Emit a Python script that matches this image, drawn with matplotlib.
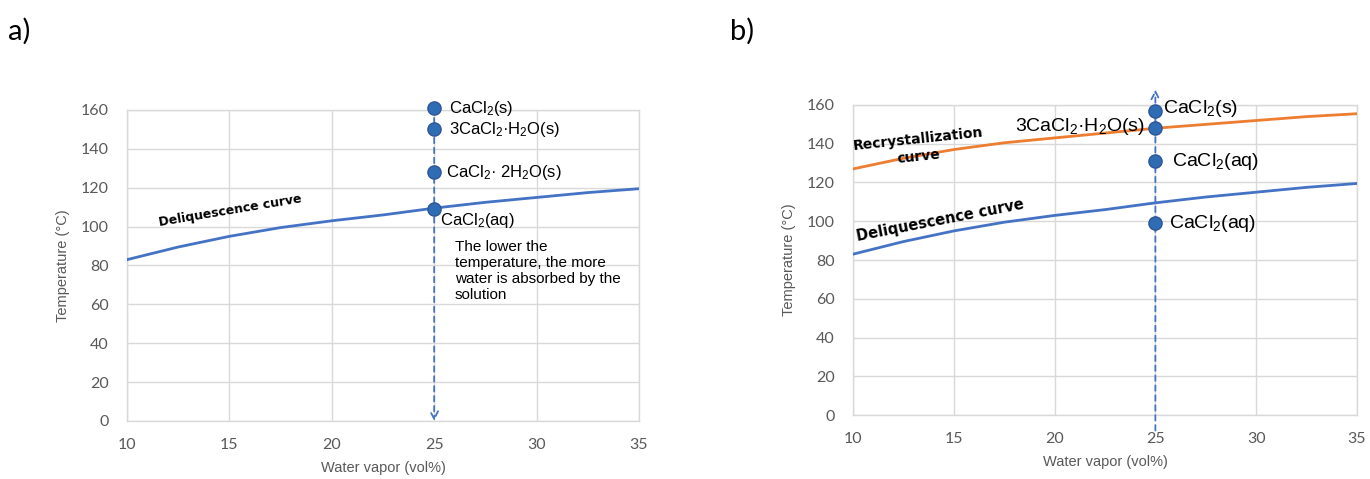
import numpy as np
import matplotlib
matplotlib.use('Agg')
import matplotlib.pyplot as plt

plt.rcParams['font.family'] = ['Liberation Sans', 'DejaVu Sans']
plt.rcParams['mathtext.fontset'] = 'custom'
plt.rcParams['mathtext.rm'] = 'Liberation Sans'
plt.rcParams['mathtext.default'] = 'regular'

# curves
vapor = [10, 12.5, 15, 17.5, 20, 22.5, 25, 27.5, 30, 32.5, 35]
deliq = [83, 89.5, 95, 99.5, 103, 106, 109.5, 112.5, 115, 117.5, 119.5]
recryst = [127, 132.5, 137, 140.5, 143, 145.5, 148, 150, 152, 154, 155.5]

# points at 25 vol%
x_pt = 25
temp_a = [161, 150, 128, 109]
labels_a = [r'CaCl$_2$(s)', r'3CaCl$_2$·H$_2$O(s)', r'CaCl$_2$· 2H$_2$O(s)', r'CaCl$_2$(aq)']
temp_b = [157, 148, 131, 99]
labels_b = [r'CaCl$_2$(s)', r'3CaCl$_2$·H$_2$O(s)', r'CaCl$_2$(aq)', r'CaCl$_2$(aq)']

xticks = [10, 15, 20, 25, 30, 35]
yticks = [0, 20, 40, 60, 80, 100, 120, 140, 160]

blue = '#4472C4'
orange = '#ED7D31'
dot = '#2E6DB4'
grid_c = '#D9D9D9'
tick_c = '#595959'

fig = plt.figure(figsize=(13.7, 4.79), dpi=100)
ax1 = fig.add_axes([0.0927, 0.1211, 0.3737, 0.6493])
ax2 = fig.add_axes([0.6226, 0.1336, 0.3679, 0.6472])

for ax in (ax1, ax2):
    ax.set_xlim(10, 35)
    ax.set_ylim(0, 160)
    ax.set_xticks(xticks)
    ax.set_yticks(yticks)
    ax.grid(True, color=grid_c, lw=1)
    ax.set_axisbelow(True)
    for s in ax.spines.values():
        s.set_color(grid_c)
        s.set_linewidth(1)
    ax.tick_params(length=0, labelsize=11.5, colors=tick_c)
    ax.tick_params(axis='x', pad=12)
    ax.tick_params(axis='y', pad=13)
    for lab in ax.get_xticklabels() + ax.get_yticklabels():
        lab.set_family('Lato')
    ax.set_xlabel('Water vapor (vol%)', fontsize=10.5, color=tick_c, family='Liberation Sans', labelpad=7)
    ax.set_ylabel('Temperature (°C)', fontsize=10.5, color=tick_c, family='Liberation Sans', labelpad=8)
    ax.plot(vapor, deliq, color=blue, lw=2, zorder=3)

# ---- panel a
ax1.annotate('', xy=(x_pt, 0), xytext=(x_pt, temp_a[0]),
             arrowprops=dict(arrowstyle='->', color=blue, lw=1.3, ls=(0, (3, 2.5)),
                             mutation_scale=14, shrinkA=0, shrinkB=0), zorder=4)
ax1.plot([x_pt] * len(temp_a), temp_a, 'o', ms=9.5, color=dot, mec='#2F5597', zorder=5, clip_on=False)
ax1.text(25.7, temp_a[0], labels_a[0], fontsize=12, va='center')
ax1.text(25.7, temp_a[1], labels_a[1], fontsize=12, va='center')
ax1.text(25.6, temp_a[2], labels_a[2], fontsize=12, va='center')
ax1.text(25.3, temp_a[3] - 6, labels_a[3], fontsize=12, va='center')
ax1.text(26.0, 61, 'The lower the\ntemperature, the more\nwater is absorbed by the\nsolution',
         fontsize=11, va='bottom', linespacing=1.2)
ax1.text(11.6, 100.5, 'Deliquescence curve', fontsize=9, fontweight='bold', rotation=9.5,
         rotation_mode='anchor', family='DejaVu Sans')

# ---- panel b
ax2.plot(vapor, recryst, color=orange, lw=2, zorder=3)
ax2.annotate('', xy=(x_pt, 168), xytext=(x_pt, -8),
             arrowprops=dict(arrowstyle='->', color=blue, lw=1.3, ls=(0, (3, 2.5)),
                             mutation_scale=14, shrinkA=0, shrinkB=0),
             annotation_clip=False, zorder=4)
ax2.plot([x_pt] * len(temp_b), temp_b, 'o', ms=9.5, color=dot, mec='#2F5597', zorder=5, clip_on=False)
ax2.text(25.4, temp_b[0] + 1, labels_b[0], fontsize=14, va='center')
ax2.text(24.5, temp_b[1] + 1, labels_b[1], fontsize=14, va='center', ha='right')
ax2.text(25.8, temp_b[2], labels_b[2], fontsize=14, va='center')
ax2.text(25.7, temp_b[3], labels_b[3], fontsize=14, va='center')
ax2.text(10.0, 137, 'Recrystallization', fontsize=10, fontweight='bold', rotation=6,
         rotation_mode='anchor', family='DejaVu Sans')
ax2.text(12.2, 130, 'curve', fontsize=10, fontweight='bold', rotation=6,
         rotation_mode='anchor', family='DejaVu Sans')
ax2.text(10.2, 90, 'Deliquescence curve', fontsize=10.5, fontweight='bold', rotation=11,
         rotation_mode='anchor', family='DejaVu Sans')

fig.text(0.006, 0.935, 'a)', fontsize=21, family='Lato', va='center')
fig.text(0.533, 0.935, 'b)', fontsize=21, family='Lato', va='center')

fig.savefig('out.png', dpi=100)
